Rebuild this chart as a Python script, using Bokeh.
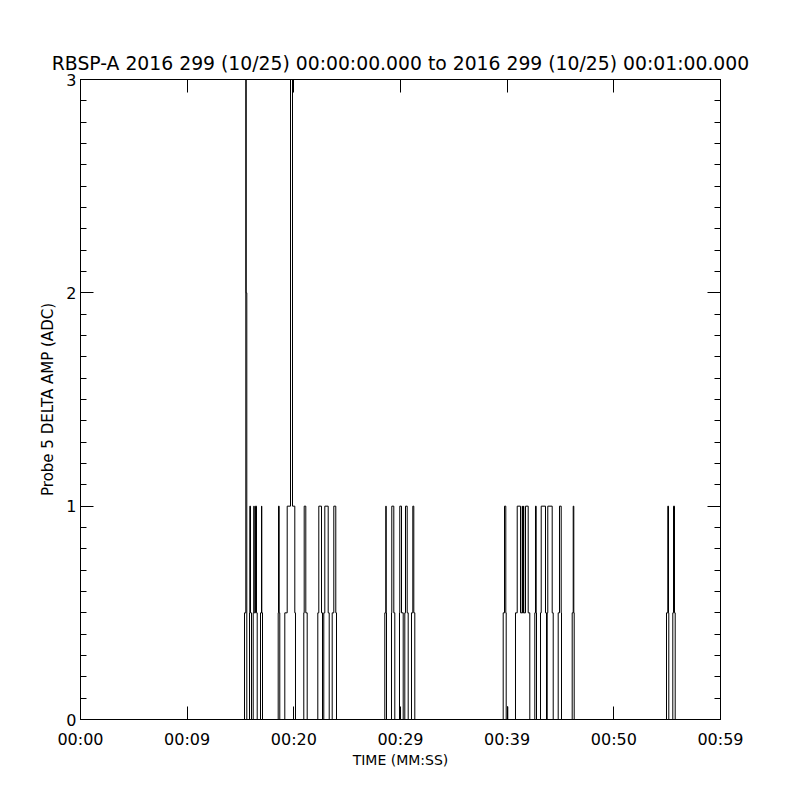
from bokeh.plotting import figure
from bokeh.models import (FixedTicker, SingleIntervalTicker, LinearAxis, Range1d,
                          CustomJSTickFormatter)
from bokeh.embed import file_html
from bokeh.resources import INLINE

title_text = "RBSP-A 2016 299 (10/25) 00:00:00.000 to 2016 299 (10/25) 00:01:00.000"
x_label = "TIME (MM:SS)"
y_label = "Probe 5 DELTA AMP (ADC)"
x_tick_values = [0, 10, 20, 30, 40, 50, 60]
x_tick_labels = ["00:00", "00:09", "00:20", "00:29", "00:39", "00:50", "00:59"]

# time in seconds after 00:00:00, amplitude (ADC) as a step series
time_s = [
    0.0, 15.375, 15.497, 15.534, 15.591, 15.844, 15.872, 15.938, 16.031,
    16.191, 16.247, 16.284, 16.406, 16.5, 16.566, 16.875, 16.969, 16.997, 17.063,
    18.534, 18.563, 18.628, 18.684, 19.153, 19.378, 19.688, 19.875, 20.091, 20.156,
    20.934, 20.972, 21.122, 21.253, 22.247, 22.341, 22.594, 22.688,
    22.809, 22.903, 23.222, 23.316, 23.597, 23.747, 23.934, 24.0,
    28.528, 28.622, 28.659, 28.688, 29.156, 29.184, 29.372, 29.466,
    29.906, 29.934, 30.094, 30.253, 30.403, 30.469, 30.628, 30.722,
    31.031, 31.153, 31.247, 31.341,
    39.628, 39.75, 39.872, 39.909, 40.031, 40.059,
    40.781, 40.941, 41.25, 41.409, 41.438, 41.531, 41.559, 41.719, 41.972, 42.122,
    42.591, 42.656, 42.722, 42.75, 43.125, 43.191, 43.594, 43.688,
    43.753, 43.809, 44.222, 44.316, 44.784, 44.906, 45.066, 45.094,
    46.097, 46.191, 46.247, 46.284,
    54.938, 55.059, 55.125, 55.153, 55.528, 55.594, 55.688, 55.753, 60.0,
]
amp = [
    0, 0.5, 3.5, 2, 0, 0.5, 1, 0.5, 0,
    0.5, 1, 0.5, 1, 0.5, 0, 0.5, 1, 0.5, 0,
    0.5, 1, 0.5, 0, 0.5, 1, 3.5, 1, 0.5, 0,
    0.5, 1, 0.5, 0, 0.5, 1, 0.5, 0,
    0.5, 1, 0.5, 0, 0.5, 1, 0.5, 0,
    0.5, 1, 0.5, 0, 0.5, 1, 0.5, 0,
    0.5, 1, 0.5, 0, 0.5, 1, 0.5, 0,
    0.5, 1, 0.5, 0,
    0.5, 1, 0.5, 0, 0.06, 0,
    0.5, 1, 0.5, 1, 0.5, 1, 0.5, 1, 0.5, 0,
    0.5, 1, 0.5, 0, 0.5, 1, 0.5, 0,
    0.5, 1, 0.5, 0, 0.5, 1, 0.5, 0,
    0.5, 1, 0.5, 0,
    0.5, 1, 0.5, 0, 0.5, 1, 0.5, 0, 0,
]

FONT = "DejaVu Sans"
FS = "16px"

p = figure(frame_width=640, frame_height=640,
           x_range=Range1d(0, 60), y_range=Range1d(0, 3),
           output_backend="svg", toolbar_location=None,
           min_border_left=80, min_border_right=72,
           min_border_top=79, min_border_bottom=73,
           background_fill_color="white", border_fill_color="white",
           outline_line_color="black", outline_line_width=1)

p.title.text = title_text
p.title.align = "center"
p.title.text_font = FONT
p.title.text_font_size = "18.8px"
p.title.text_font_style = "normal"
p.title.text_color = "black"
p.title.standoff = 11

p.xgrid.visible = False
p.ygrid.visible = False

def style(ax):
    ax.axis_line_color = "black"
    ax.major_tick_line_color = "black"
    ax.minor_tick_line_color = "black"
    ax.major_tick_out = 0
    ax.minor_tick_out = 0
    ax.major_tick_in = 13
    ax.major_label_text_font = FONT
    ax.major_label_text_font_size = FS
    ax.major_label_text_color = "black"
    ax.axis_label_text_font = FONT
    ax.axis_label_text_font_size = FS
    ax.axis_label_text_font_style = "normal"
    ax.axis_label_text_color = "black"

xb = p.xaxis[0]
xb.ticker = FixedTicker(ticks=x_tick_values)
xb.major_label_overrides = dict(zip(x_tick_values, x_tick_labels))
style(xb)
xb.minor_tick_in = 0
xb.major_label_standoff = 10
xb.axis_label = x_label
xb.axis_label_text_font_size = "14px"
xb.axis_label_standoff = 0

yl = p.yaxis[0]
yl.ticker = SingleIntervalTicker(interval=1, num_minor_ticks=10)
style(yl)
yl.minor_tick_in = 6
yl.major_label_standoff = 4
yl.axis_label = y_label
yl.axis_label_text_font_size = "15px"
yl.axis_label_standoff = 6

blank = CustomJSTickFormatter(code="return '';")

xt = LinearAxis(ticker=FixedTicker(ticks=x_tick_values), formatter=blank)
style(xt)
xt.minor_tick_in = 0
xt.major_label_standoff = 0
p.add_layout(xt, "above")

yr = LinearAxis(ticker=SingleIntervalTicker(interval=1, num_minor_ticks=10), formatter=blank)
style(yr)
yr.minor_tick_in = 6
yr.major_label_standoff = 0
p.add_layout(yr, "right")

p.step(time_s, amp, mode="after", line_color="black", line_width=1)

open("out.html", "w").write(file_html(p, INLINE))
